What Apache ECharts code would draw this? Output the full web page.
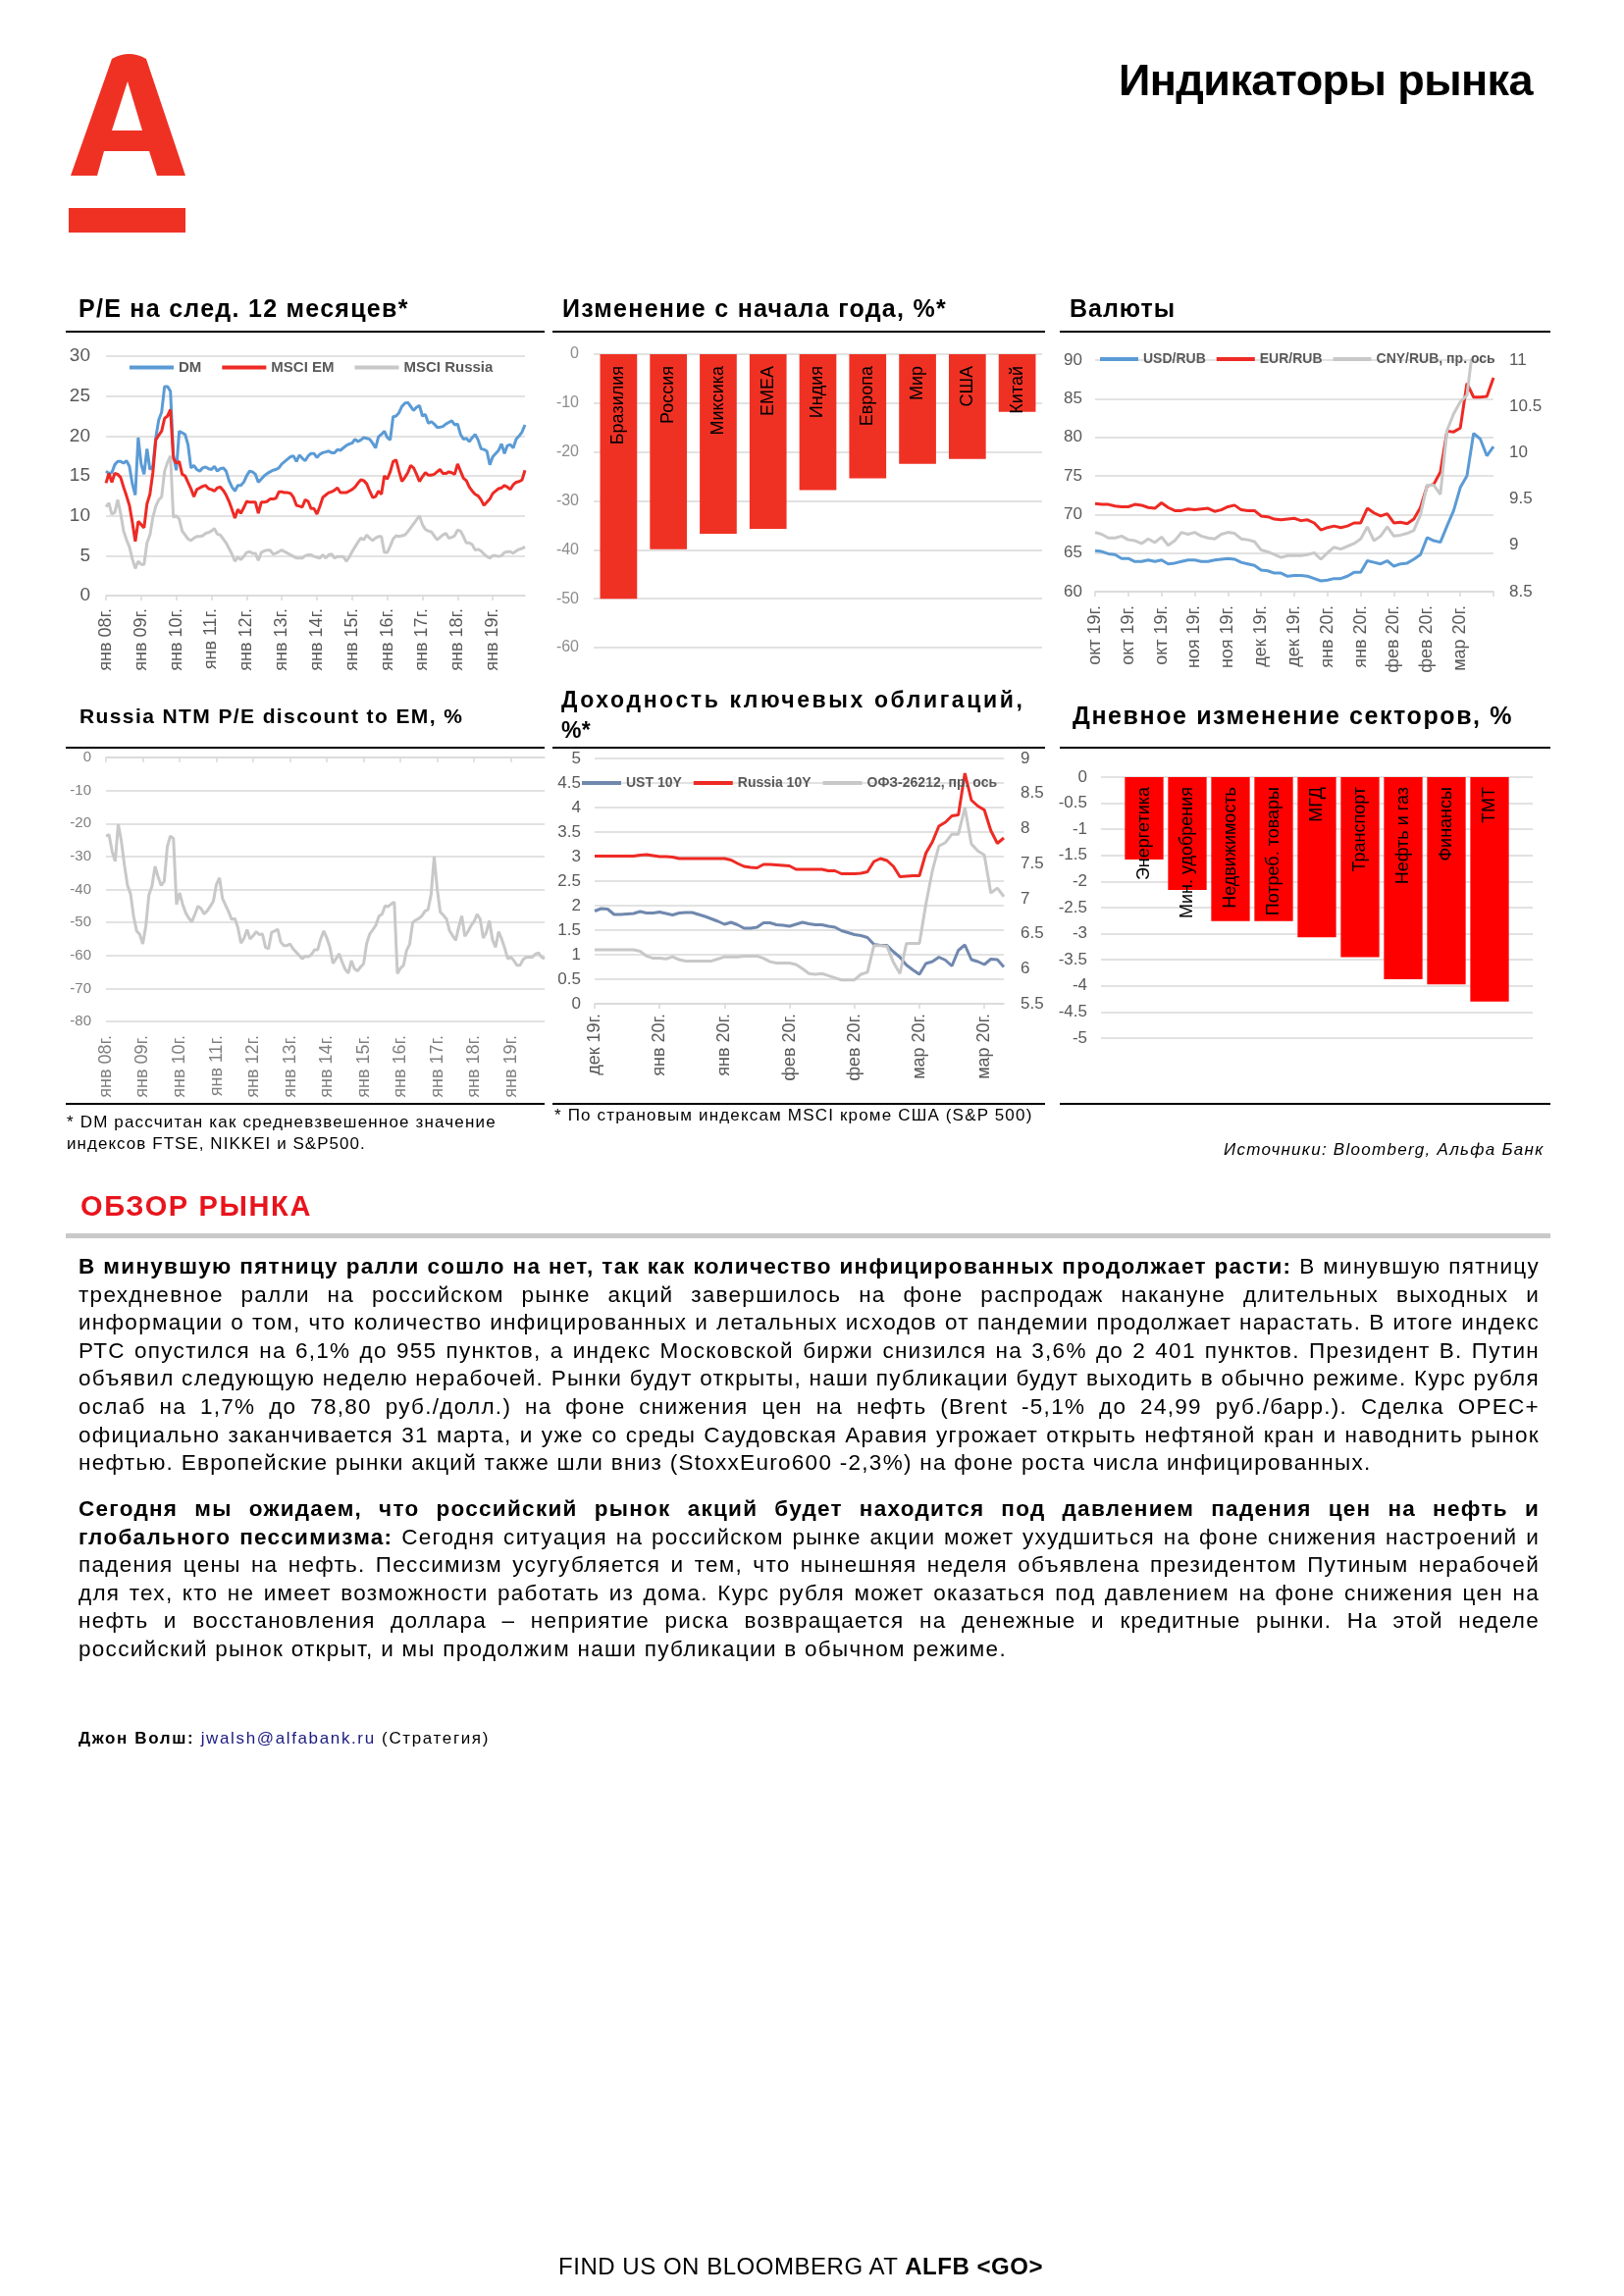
<!DOCTYPE html>
<html>
<head>
<meta charset="utf-8">
<script src="https://cdn.jsdelivr.net/npm/echarts/dist/echarts.min.js"></script>
<style>
html,body{margin:0;padding:0;background:#fff;}
#page{position:relative;width:1655px;height:2340px;overflow:hidden;font-family:"Liberation Sans",Arial,sans-serif;color:#000;background:#fff;}
#chart{position:absolute;left:0;top:0;width:1655px;height:2340px;}
.t{position:absolute;white-space:nowrap;line-height:1;}
.b{font-weight:bold;}
.rule{position:absolute;height:2px;background:#000;}
.ct{font-size:25px;font-weight:bold;}
.p{font-size:22.5px;}
.fn{font-size:17px;}
</style>
</head>
<body>
<div id="page">
  <div id="chart"></div>
  <svg style="position:absolute;left:0;top:0" width="260" height="260">
    <path d="M72,179 L114,60 Q131.5,50 149,60 L189,179 L160,179 L152,154 L106,154 L99,179 Z" fill="#EF3124"/>
    <path d="M130,83 L145,133 L114,133 Z" fill="#fff"/>
    <rect x="70" y="212" width="119" height="25" fill="#EF3124"/>
  </svg>
  <div class="t b" style="left:1140px;top:59px;font-size:45px" data-w="422">Индикаторы рынка</div>

  <div class="t ct" style="left:80px;top:302px" data-w="338">P/E на след.  12 месяцев*</div>
  <div class="t ct" style="left:573px;top:302px" data-w="392">Изменение с начала года, %*</div>
  <div class="t ct" style="left:1090px;top:302px" data-w="108">Валюты</div>
  <div class="t b" style="left:81px;top:719px;font-size:21px" data-w="394">Russia  NTM P/E discount  to EM, %</div>
  <div class="t b" style="left:572px;top:702px;font-size:23px" data-w="475">Доходность  ключевых облигаций,</div>
  <div class="t b" style="left:572px;top:733px;font-size:23px" data-w="30">%*</div>
  <div class="t ct" style="left:1093px;top:717px" data-w="449">Дневное изменение секторов, %</div>

  <div class="rule" style="left:67px;top:337px;width:488px"></div>
  <div class="rule" style="left:563px;top:337px;width:502px"></div>
  <div class="rule" style="left:1080px;top:337px;width:500px"></div>
  <div class="rule" style="left:67px;top:761px;width:488px"></div>
  <div class="rule" style="left:563px;top:761px;width:502px"></div>
  <div class="rule" style="left:1080px;top:761px;width:500px"></div>
  <div class="rule" style="left:67px;top:1124px;width:488px"></div>
  <div class="rule" style="left:563px;top:1124px;width:502px"></div>
  <div class="rule" style="left:1080px;top:1124px;width:500px"></div>

  <div class="t fn" style="left:68px;top:1135px" data-w="439">* DM рассчитан как средневзвешенное  значение</div>
  <div class="t fn" style="left:68px;top:1157px" data-w="307">индексов  FTSE,  NIKKEI и S&amp;P500.</div>
  <div class="t fn" style="left:565px;top:1128px" data-w="491">* По страновым индексам  MSCI  кроме  США (S&amp;P 500)</div>
  <div class="t fn" style="left:1247px;top:1163px;font-style:italic" data-w="329">Источники:  Bloomberg,  Альфа Банк</div>

  <div class="t b" style="left:82px;top:1215px;font-size:29px;color:#E8141C" data-w="236">ОБЗОР РЫНКА</div>
  <div style="position:absolute;left:67px;top:1257px;width:1513px;height:5px;background:#c9c9c9"></div>

  <div class="t p jl" style="left:80px;top:1280px"><b>В минувшую пятницу ралли сошло на нет, так как количество инфицированных продолжает расти:</b> В минувшую пятницу</div>
  <div class="t p jl" style="left:80px;top:1308.6px">трехдневное ралли на российском рынке акций завершилось на фоне распродаж накануне длительных выходных и</div>
  <div class="t p jl" style="left:80px;top:1337.2px">информации о том, что количество инфицированных и летальных исходов от пандемии продолжает нарастать. В итоге индекс</div>
  <div class="t p jl" style="left:80px;top:1365.8px">РТС опустился на 6,1% до 955 пунктов, а индекс Московской биржи снизился на 3,6% до 2 401 пунктов. Президент В. Путин</div>
  <div class="t p jl" style="left:80px;top:1394.4px">объявил следующую неделю нерабочей. Рынки будут открыты, наши публикации будут выходить в обычно режиме. Курс рубля</div>
  <div class="t p jl" style="left:80px;top:1423px">ослаб на 1,7% до 78,80 руб./долл.) на фоне снижения цен на нефть (Brent -5,1% до 24,99 руб./барр.). Сделка OPEC+</div>
  <div class="t p jl" style="left:80px;top:1451.6px">официально заканчивается 31 марта, и уже со среды Саудовская Аравия угрожает открыть нефтяной кран и наводнить рынок</div>
  <div class="t p jl last" style="left:80px;top:1480.2px">нефтью. Европейские рынки акций также шли вниз (StoxxEuro600 -2,3%) на фоне роста числа инфицированных.</div>

  <div class="t p jl" style="left:80px;top:1527px"><b>Сегодня мы ожидаем, что российский рынок акций будет находится под давлением падения цен на нефть и</b></div>
  <div class="t p jl" style="left:80px;top:1555.6px"><b>глобального пессимизма:</b> Сегодня ситуация на российском рынке акции может ухудшиться на фоне снижения настроений и</div>
  <div class="t p jl" style="left:80px;top:1584.2px">падения цены на нефть. Пессимизм усугубляется и тем, что нынешняя неделя объявлена президентом Путиным нерабочей</div>
  <div class="t p jl" style="left:80px;top:1612.8px">для тех, кто не имеет возможности работать из дома. Курс рубля может оказаться под давлением на фоне снижения цен на</div>
  <div class="t p jl" style="left:80px;top:1641.4px">нефть и восстановления доллара – неприятие риска возвращается на денежные и кредитные рынки. На этой неделе</div>
  <div class="t p jl last" style="left:80px;top:1670px">российский рынок открыт, и мы продолжим наши публикации в обычном режиме.</div>

  <div class="t fn" style="left:80px;top:1763px" data-w="419"><b>Джон Волш:</b> <span style="color:#1a1a80">jwalsh@alfabank.ru</span> (Стратегия)</div>
  <div class="t" style="left:569px;top:2298px;font-size:24px" data-w="494">FIND US ON BLOOMBERG AT <b>ALFB &lt;GO&gt;</b></div>
</div>

<script>
// ---------- DATA ----------
const peYearTicks = ['янв 08г.','янв 09г.','янв 10г.','янв 11г.','янв 12г.','янв 13г.','янв 14г.','янв 15г.','янв 16г.','янв 17г.','янв 18г.','янв 19г.'];
const monthNames = ['янв','фев','мар','апр','май','июн','июл','авг','сен','окт','ноя','дек'];

const dmPE = [15.6,15.3,15.4,16.4,16.8,16.8,16.6,16.9,16.2,14,
12.6,19.8,16.5,15.2,18.4,15.8,16.2,19.8,22,23,
26.2,26.2,25.6,17.6,15.7,20.6,20.4,20.2,18.9,16,
16.3,15.8,15.6,16,16.1,15.9,15.8,16.2,15.6,15.9,
16,15.6,14.4,13.6,13.1,13.8,13.8,14.2,15,15.6,
15.5,15.2,14.2,14.6,15,15.3,15.5,15.7,15.8,16,
16.5,16.8,17.1,17.4,17.5,16.8,17.6,17.2,16.9,17.5,
17.8,17.8,17.3,17.7,17.9,18,18.1,17.9,17.9,18.3,
18.2,18.5,18.8,19,19.1,19.6,19.3,19.5,19.8,19.7,
19.6,19.1,18.5,19.9,20.2,20.6,19.8,19.5,22.4,22.5,
22.9,23.7,24.1,24.2,23.7,23.2,23.6,23.8,22.5,22.7,
21.6,21.8,21.5,21.1,21.1,21.2,21.5,21.7,21.9,21.4,
21.5,20.2,19.6,19.7,19.3,19.8,20.2,19.5,18.4,18.3,
18.1,16.4,17.4,17.8,18.2,19,17.8,18.8,18.9,18.5,
19.6,20,20.5,21.4];

const emPE = [14.1,15.3,14.2,15.3,15.2,14.8,13.6,12.5,11.3,9.2,
6.8,9.3,8.9,8.5,11.5,12.7,15.4,19.5,20.1,20.6,
22.2,22.5,23.3,17.2,16.6,16.8,15.2,15,14.2,13.4,
12.4,13.3,13.5,13.7,13.8,13.4,13.3,13.1,13.5,13.6,
13.2,12.6,11.8,10.8,9.7,10.8,10.3,11,11.8,11.7,
11.7,11.7,10.3,11.7,11.7,11.8,12.1,12.1,12.2,13,
13,12.9,12.9,12.8,12.3,11.3,11.2,11.1,12,11.8,
10.9,10.9,10.2,11.2,12.3,12.6,12.9,13,13.2,13.5,
12.9,12.9,12.9,13.1,13.3,13.6,14.1,14.5,14.4,14,
13.1,12.3,12.4,13.1,12.7,15,14.6,15.5,16.8,17,
15.6,14.3,14.8,15.4,16.3,16,15.2,14.3,14.9,15.4,
15.1,15.1,15.2,15.5,15.8,15.3,15.3,15.5,15.4,15.2,
16.5,15.6,14.7,14.4,13.6,13.1,12.7,12.5,12,11.3,
11.7,12.1,12.8,13.1,13.4,13.5,13.8,13.6,13.3,13.9,
14.2,14.3,14.5,15.7];

const ruPE = [11.1,11.6,10.2,10.4,12,10.3,8.1,7,6.1,4.6,
3.4,4.3,3.9,3.9,6.6,7.6,9.8,11.2,12,12.4,
15.6,16.7,17.5,9.8,10,9.6,8.1,7.6,7.1,6.9,
7.2,7.4,7.4,7.5,7.8,7.9,8.1,8.4,7.7,7.6,
7.1,6.6,5.9,5.2,4.3,4.8,4.5,4.9,5.4,5.5,
5.3,5.3,4.4,5.4,5.6,5.7,5.7,5.2,5.3,5.5,
5.7,5.5,5.3,5.1,4.9,4.7,4.7,4.7,5,5.1,
5.1,4.9,4.8,4.7,5.1,4.7,5.1,5.2,4.7,4.9,
4.9,4.9,4.3,4.8,5.5,6.1,6.7,7.2,7,7.6,
7.2,6.9,7.2,7.4,7.4,5.4,5.4,6.2,7.1,7.5,
7.4,7.5,7.6,8,8.5,9,9.5,10,8.9,8.3,
8.1,8,7.5,7,7.3,7.6,7.8,7.2,7.3,7.5,
8.2,8.1,7.4,6.6,6.6,6.4,5.7,5.8,5.6,5.2,
4.9,4.7,5,5,4.9,5,5.4,5.5,5.5,5.3,
5.6,5.8,5.9,6.1];

const ruDiscount = [-23.8,-23.4,-28.5,-31.5,-20.2,-25.3,-32.5,-38.7,-41.3,-48.1,
-52.6,-53.6,-56.5,-51,-41.6,-39,-33,-36.2,-38.8,-37.5,
-27,-23.8,-24.6,-44.6,-41,-44.5,-47.1,-48.7,-49.8,-47.5,
-45.1,-45.8,-47.4,-46.5,-45.1,-43.6,-38.5,-36.5,-42.8,-44.8,
-46.8,-49.1,-48.8,-51.5,-56.3,-54.8,-52.2,-55,-54,-52.8,
-53.7,-53.5,-57.5,-58,-53,-52.6,-52.1,-56,-57,-57,
-56.5,-58,-59,-60,-61,-60.2,-60.4,-59.7,-58.3,-58.3,
-55,-52.6,-54.7,-57.5,-62.4,-61,-59.5,-62,-64.2,-65.4,
-61.6,-64,-64.7,-63.5,-62.5,-56.3,-53.5,-52.2,-50.8,-48.1,
-47.5,-45,-45.2,-44.4,-43.8,-65.5,-63.9,-63,-58.5,-56.6,
-50,-49.3,-48.8,-48,-46.6,-46.1,-41.5,-30,-40,-46.9,
-47.8,-48.9,-52.5,-54,-55.4,-51.5,-48,-54.2,-52.8,-51,
-49.7,-47.5,-49,-54.7,-53,-49.5,-55.2,-57.5,-52.8,-55,
-57.8,-61,-60.5,-61.6,-63,-63,-61.2,-60.6,-60.5,-60.5,
-59.6,-59.2,-60.5,-61];

const ytdCountries = ['Бразилия','Россия','Миксика','EMEA','Индия','Европа','Мир','США','Китай'];
const ytdValues = [-50,-39.9,-36.7,-35.7,-27.8,-25.4,-22.4,-21.4,-11.8];

const fxTickLabels = ['окт 19г.','окт 19г.','окт 19г.','ноя 19г.','ноя 19г.','дек 19г.','дек 19г.','янв 20г.','янв 20г.','фев 20г.','фев 20г.','мар 20г.'];
const usdRub = [65.3,65.2,64.9,64.8,64.3,64.3,63.9,63.9,64.1,63.9,
64.1,63.6,63.7,63.9,64.1,64.1,63.9,63.9,64.1,64.2,
64.3,64.2,63.8,63.6,63.4,62.8,62.7,62.4,62.4,62,
62.1,62.1,62,61.7,61.4,61.5,61.7,61.7,62,62.5,
62.5,64,63.8,63.6,64,63.3,63.6,63.7,64.2,64.8,
67,66.6,66.4,68.5,70.5,73.5,75,80.5,79.8,77.6,78.8];
const eurRub = [71.4,71.3,71.3,71.1,71,71,71.3,71.2,70.9,70.8,
71.5,70.9,70.5,70.5,70.7,70.6,70.7,70.8,70.4,70.6,
71,71.2,70.6,70.5,70.5,69.8,69.7,69.4,69.3,69.4,
69.5,69.2,69.3,68.9,68,68.3,68.5,68.3,68.5,68.9,
68.9,70.8,70.2,69.8,70.1,68.9,69,68.8,69.4,70.9,
73.7,73.9,75.5,80.8,80.7,81.2,87,85.2,85.2,85.3,87.7];
const cnyRub = [9.14,9.12,9.08,9.08,9.1,9.06,9.05,9.02,9.07,9.03,
9.09,9.0,9.05,9.14,9.12,9.14,9.1,9.08,9.07,9.12,
9.14,9.13,9.07,9.06,9.04,8.95,8.93,8.9,8.87,8.89,
8.89,8.89,8.9,8.92,8.85,8.92,8.98,8.96,8.99,9.02,
9.07,9.2,9.05,9.1,9.2,9.1,9.11,9.13,9.16,9.33,
9.65,9.65,9.55,10.24,10.42,10.55,10.62,11.2,11.25,11.15,11.1];

const bondTickLabels = ['дек 19г.','янв 20г.','янв 20г.','фев 20г.','фев 20г.','мар 20г.','мар 20г.'];
const ust10 = [1.89,1.94,1.93,1.82,1.82,1.83,1.84,1.88,1.85,1.85,
1.87,1.84,1.81,1.85,1.86,1.86,1.82,1.78,1.73,1.68,
1.62,1.66,1.61,1.54,1.54,1.56,1.65,1.65,1.61,1.6,
1.58,1.62,1.66,1.63,1.61,1.61,1.58,1.56,1.49,1.45,
1.41,1.39,1.35,1.21,1.19,1.19,1.06,0.95,0.79,0.69,
0.6,0.82,0.86,0.95,0.89,0.77,1.09,1.2,0.9,0.86,
0.8,0.91,0.9,0.75];
const russia10 = [3.01,3.01,3.01,3.01,3.01,3.01,3.01,3.03,3.04,3.02,
3.0,3.0,2.99,2.96,2.96,2.96,2.96,2.96,2.96,2.96,
2.96,2.93,2.86,2.8,2.78,2.77,2.84,2.84,2.83,2.82,
2.81,2.74,2.74,2.74,2.74,2.74,2.71,2.71,2.65,2.65,
2.65,2.66,2.69,2.9,2.96,2.92,2.8,2.59,2.6,2.61,
2.61,3.07,3.3,3.62,3.7,3.83,3.85,4.7,4.15,4.03,
3.95,3.53,3.27,3.38];
const ofz26212 = [6.27,6.27,6.27,6.27,6.27,6.27,6.27,6.25,6.18,6.15,
6.15,6.14,6.17,6.13,6.11,6.11,6.11,6.11,6.11,6.14,
6.17,6.17,6.17,6.18,6.18,6.18,6.15,6.1,6.08,6.08,
6.08,6.06,6.0,5.93,5.92,5.93,5.9,5.87,5.84,5.84,
5.84,5.92,5.95,6.33,6.33,6.32,6.09,5.93,6.36,6.36,
6.36,6.92,7.4,7.75,7.8,7.92,7.92,8.3,7.78,7.68,
7.62,7.08,7.15,7.03];

const sectorNames = ['Энергетика','Мин. удобрения','Недвижимость','Потреб. товары','МГД','Транспорт','Нефть и газ','Финансы','ТМТ'];
const sectorValues = [-1.58,-2.16,-2.76,-2.76,-3.07,-3.45,-3.87,-3.97,-4.3];

// ---------- BUILD ----------
const FF = '"Liberation Sans", Arial, sans-serif';
const GRIDC = '#d9d9d9';
const BLUE = '#5B9BD5', RED = '#EE2A24', GRAY = '#C8C8C8', STEEL = '#7088AE';

const peMonths = [];
for (let y = 2008; y <= 2019; y++) for (let m = 0; m < 12; m++) peMonths.push(monthNames[m] + ' ' + String(y).slice(2) + 'г.');
const fxCats = usdRub.map((_, i) => (i % 5 === 0 && fxTickLabels[i / 5]) ? fxTickLabels[i / 5] : '');
const bondCats = ust10.map((_, i) => (i % 10 === 0 && bondTickLabels[i / 10]) ? bondTickLabels[i / 10] : '');
const sectorCats = [''].concat(sectorNames, ['']);
const sectorData = ['-'].concat(sectorValues, ['-']);

function grid(l, t, w, h) { return { left: l, top: t, width: w, height: h, containLabel: false, outerBoundsMode: 'none' }; }
function yVal(gi, min, max, interval, lblColor, fs, margin, extra) {
  return Object.assign({
    type: 'value', gridIndex: gi, min: min, max: max, interval: interval,
    axisLine: { show: false }, axisTick: { show: false },
    splitLine: { show: true, lineStyle: { color: GRIDC, width: 1.5 } },
    axisLabel: { color: lblColor, fontSize: fs, fontFamily: FF, margin: margin }
  }, extra || {});
}
function xCat(gi, data, interval, fs, margin, color, extra) {
  return Object.assign({
    type: 'category', gridIndex: gi, data: data, boundaryGap: false,
    axisLine: { show: true, onZero: false, lineStyle: { color: GRIDC, width: 1.5 } },
    axisTick: { show: true, interval: interval, length: 5, lineStyle: { color: GRIDC, width: 1.5 } },
    axisLabel: { interval: interval, rotate: 90, fontSize: fs, color: color, fontFamily: FF, margin: margin },
    splitLine: { show: false }
  }, extra || {});
}
function line(name, xi, yi, data, color) {
  return { type: 'line', name: name, xAxisIndex: xi, yAxisIndex: yi, data: data, showSymbol: false, symbol: 'none',
    lineStyle: { width: 3, color: color }, itemStyle: { color: color }, clip: true };
}
function legend(names, left, top, iw, gap, fs) {
  return { data: names, left: left, top: top, orient: 'horizontal', icon: 'rect', itemWidth: iw, itemHeight: 4,
    itemGap: gap, padding: 0, selectedMode: false,
    textStyle: { fontSize: fs, fontWeight: 'bold', color: '#595959', fontFamily: FF } };
}

const option = {
  animation: false,
  backgroundColor: 'transparent',
  textStyle: { fontFamily: FF },
  grid: [
    grid(108, 363, 427, 244),
    grid(605, 361, 457, 299),
    grid(1116, 367, 406, 236),
    grid(108, 772, 447, 269),
    grid(606, 773, 417, 250),
    grid(1122, 792, 440, 266)
  ],
  legend: [
    legend(['DM', 'MSCI EM', 'MSCI Russia'], 132, 367, 45, 21, 15),
    legend(['USD/RUB', 'EUR/RUB', 'CNY/RUB, пр. ось'], 1121, 359, 39, 11, 14),
    legend(['UST 10Y', 'Russia 10Y', 'ОФЗ-26212, пр. ось'], 593, 791, 40, 12, 14)
  ],
  xAxis: [
    xCat(0, peMonths, 11, 18, 13, '#595959'),
    { type: 'category', gridIndex: 1, data: ytdCountries, show: false, axisLine: { onZero: false } },
    xCat(2, fxCats, 4, 18, 14, '#595959'),
    xCat(3, peMonths, 11, 18, 14, '#7f7f7f', { axisLine: { show: false, onZero: false }, axisTick: { show: false } }),
    { type: 'category', gridIndex: 3, data: peMonths, boundaryGap: false, position: 'top',
      axisLine: { show: true, onZero: false, lineStyle: { color: GRIDC, width: 1.5 } },
      axisTick: { show: true, inside: true, interval: 11, length: 5, lineStyle: { color: GRIDC, width: 1.5 } },
      axisLabel: { show: false }, splitLine: { show: false } },
    xCat(4, bondCats, 9, 18, 10, '#595959'),
    { type: 'category', gridIndex: 5, data: sectorCats, boundaryGap: false, show: false, axisLine: { onZero: false } }
  ],
  yAxis: [
    yVal(0, 0, 30, 5, '#595959', 19, 16),
    yVal(1, -60, 0, 10, '#8c8c8c', 16, 15),
    yVal(2, 60, 90, 5, '#595959', 17, 13),
    yVal(2, 8.5, 11, 0.5, '#595959', 17, 16, { position: 'right', splitLine: { show: false } }),
    yVal(3, -80, 0, 10, '#7f7f7f', 15, 15),
    yVal(4, 0, 5, 0.5, '#595959', 17, 14),
    yVal(4, 5.5, 9, 0.5, '#595959', 17, 17, { position: 'right', splitLine: { show: false } }),
    yVal(5, -5, 0, 0.5, '#595959', 17, 14)
  ],
  series: [
    line('DM', 0, 0, dmPE, BLUE),
    line('MSCI EM', 0, 0, emPE, RED),
    line('MSCI Russia', 0, 0, ruPE, GRAY),
    { type: 'bar', name: 'ytd', xAxisIndex: 1, yAxisIndex: 1, data: ytdValues, barWidth: 37.7,
      itemStyle: { color: '#EF3124' },
      label: { show: true, position: 'insideTop', rotate: 90, align: 'right', verticalAlign: 'middle', distance: 12,
        formatter: '{b}', fontSize: 18, color: '#000', fontFamily: FF } },
    line('USD/RUB', 2, 2, usdRub, BLUE),
    line('EUR/RUB', 2, 2, eurRub, RED),
    line('CNY/RUB, пр. ось', 2, 3, cnyRub, GRAY),
    line('discount', 3, 4, ruDiscount, GRAY),
    line('UST 10Y', 5, 5, ust10, STEEL),
    line('Russia 10Y', 5, 5, russia10, RED),
    line('ОФЗ-26212, пр. ось', 5, 6, ofz26212, GRAY),
    { type: 'bar', name: 'sectors', xAxisIndex: 6, yAxisIndex: 7, data: sectorData, barWidth: 39.3,
      itemStyle: { color: '#FF0000' },
      label: { show: true, position: 'insideTop', rotate: 90, align: 'right', verticalAlign: 'middle', distance: 10,
        formatter: '{b}', fontSize: 18, color: '#000', fontFamily: FF } }
  ]
};

const chart = echarts.init(document.getElementById('chart'), null, { renderer: 'canvas', width: 1655, height: 2340 });
chart.setOption(option);

// ---------- text fitting ----------
function fitAll() {
  document.querySelectorAll('[data-w]').forEach(el => {
    el.style.letterSpacing = '0px';
    const nat = el.getBoundingClientRect().width;
    const n = el.textContent.length;
    el.style.letterSpacing = ((+el.dataset.w - nat) / n).toFixed(3) + 'px';
  });
  const JW = 1489;
  const jls = Array.from(document.querySelectorAll('.jl'));
  let T = 3;
  jls.forEach(el => {
    el.style.letterSpacing = '0px'; el.style.wordSpacing = '0px';
    const w = el.getBoundingClientRect().width;
    const n = el.textContent.length;
    if (!el.classList.contains('last')) T = Math.min(T, (JW - w) / n);
  });
  T = Math.max(T, -1.5);
  jls.forEach(el => {
    el.style.letterSpacing = T.toFixed(3) + 'px';
    if (el.classList.contains('last')) return;
    const w = el.getBoundingClientRect().width;
    const s = (el.textContent.match(/ /g) || []).length;
    if (s > 0) el.style.wordSpacing = ((JW - w) / s).toFixed(3) + 'px';
  });
}
fitAll();
</script>
</body>
</html>
